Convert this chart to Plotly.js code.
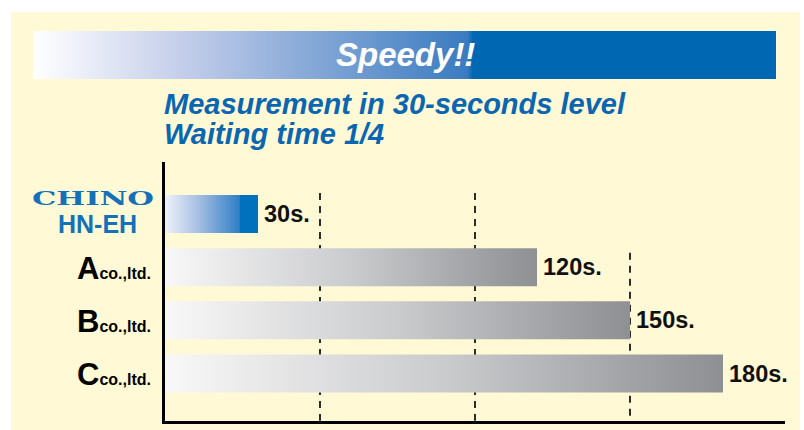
<!DOCTYPE html>
<html>
<head>
<meta charset="utf-8">
<script src="https://cdn.plot.ly/plotly-3.0.1.min.js"></script>
<style>
  html, body { margin: 0; padding: 0; background: #ffffff; width: 804px; height: 430px; overflow: hidden; }
  #chart { position: absolute; left: 11px; top: 12px; width: 789px; height: 418px; }
</style>
</head>
<body>
<div id="chart"></div>
<script>
// ---- data ----
const categories = ["CHINO HN-EH", "A co.,ltd.", "B co.,ltd.", "C co.,ltd."];
const companyLetters = ["", "A", "B", "C"];
const seconds = [30, 120, 150, 180];
const valueLabels = ["30s.", "120s.", "150s.", "180s."];
const gridValues = [50, 100, 150];
const titleText = "Speedy!!";
const subtitleLines = ["Measurement in 30-seconds level", "Waiting time 1/4"];

// ---- layout helpers (page pixel -> paper coords) ----
const OFFX = 11, OFFY = 12;
const L = 154, T = 150, R = 15, B = 9;
const W = 789 - L - R, H = 418 - T - B;
const px = x => (x - OFFX - L) / W;
const py = y => 1 - (y - OFFY - T) / H;

const FONT = "Liberation Sans, Arial, Helvetica, sans-serif";
const BLUE = "#0B66B2";

const trace = {
  type: "bar",
  orientation: "h",
  y: categories,
  x: seconds,
  width: 0.715,
  marker: { color: ["#0071BC", "#B5B6B8", "#B5B6B8", "#B5B6B8"], line: { width: 0 } },
  hoverinfo: "none",
  showlegend: false
};

const annotations = [];
annotations.push({
  xref: "paper", yref: "paper", x: px(405), y: py(54.5),
  xanchor: "center", yanchor: "middle", showarrow: false,
  text: titleText,
  font: { family: FONT, size: 33, color: "#ffffff", weight: "bold", style: "italic" }
});
const subY = [104, 134];
subtitleLines.forEach((s, i) => {
  annotations.push({
    xref: "paper", yref: "paper", x: px(162), y: py(subY[i]),
    xanchor: "left", yanchor: "middle", showarrow: false,
    text: s,
    font: { family: FONT, size: 29, color: BLUE, weight: "bold", style: "italic" }
  });
});
// CHINO logo + model
annotations.push({
  xref: "paper", yref: "paper", x: px(92.5), y: py(198.5),
  xanchor: "center", yanchor: "middle", showarrow: false,
  text: "CHINO",
  font: { family: "DejaVu Serif, serif", size: 18.5, color: "#1470B8", weight: "bold" }
});
annotations.push({
  xref: "paper", yref: "paper", x: px(97.5), y: py(223.5),
  xanchor: "center", yanchor: "middle", showarrow: false,
  text: "HN-EH",
  font: { family: FONT, size: 25, color: "#1470B8", weight: "bold" }
});
// Company labels
companyLetters.forEach((c, i) => {
  if (!c) return;
  annotations.push({
    xref: "paper", yref: "y", x: px(153), y: categories[i],
    xanchor: "right", yanchor: "middle", showarrow: false, yshift: -1,
    text: '<span style="font-size:31px">' + c + '</span><span style="font-size:16px">co.,ltd.</span>',
    font: { family: FONT, size: 16, color: "#000000", weight: "bold" }
  });
});
// value labels
seconds.forEach((v, i) => {
  annotations.push({
    xref: "x", yref: "y", x: v, y: categories[i],
    xanchor: "left", yanchor: "middle", showarrow: false, xshift: 4,
    text: valueLabels[i],
    font: { family: FONT, size: 23.5, color: "#111111", weight: "bold" }
  });
});

const gridTop = [-0.395, -0.395, 0.73];
const shapes = gridValues.map((g, i) => ({
  type: "line", xref: "x", yref: "y", layer: "below",
  x0: g, x1: g, y0: gridTop[i], y1: 3.89,
  line: { color: "#222222", width: 1.9, dash: "7px,6px" }
}));

const bannerSvg = '<svg xmlns="http://www.w3.org/2000/svg" width="743" height="48" viewBox="0 0 743 48" preserveAspectRatio="none">' +
  '<defs><linearGradient id="g" x1="0" y1="0" x2="1" y2="0">' +
  '<stop offset="0" stop-color="#FFFFFF"/>' +
  '<stop offset="0.2" stop-color="#C4CEEA"/>' +
  '<stop offset="0.585" stop-color="#3A7BC0"/>' +
  '<stop offset="0.592" stop-color="#0068B3"/>' +
  '<stop offset="1" stop-color="#0068B3"/>' +
  '</linearGradient></defs><rect x="0" y="0" width="743" height="48" fill="url(#g)"/></svg>';

const layout = {
  width: 789, height: 418,
  margin: { l: L, r: R, t: T, b: B, pad: 0 },
  paper_bgcolor: "#FFFAD5",
  plot_bgcolor: "rgba(0,0,0,0)",
  font: { family: FONT },
  xaxis: {
    range: [0, 200], showgrid: false, zeroline: false, showticklabels: false,
    ticks: "", showline: true, linecolor: "#000000", linewidth: 3, fixedrange: true
  },
  yaxis: {
    type: "category", categoryorder: "array", categoryarray: categories,
    range: [3.893, -0.978], showgrid: false, zeroline: false, showticklabels: false,
    ticks: "", showline: true, linecolor: "#000000", linewidth: 3, fixedrange: true
  },
  annotations: annotations,
  shapes: shapes,
  images: [{
    source: "data:image/svg+xml;charset=utf-8," + encodeURIComponent(bannerSvg),
    xref: "paper", yref: "paper",
    x: px(33), y: py(31), sizex: 743 / W, sizey: 48 / H,
    xanchor: "left", yanchor: "top", sizing: "stretch", layer: "below"
  }]
};

const gd = document.getElementById("chart");
Plotly.newPlot(gd, [trace], layout, { staticPlot: true, displayModeBar: false }).then(() => {
  const svg = gd.querySelector("svg.main-svg");
  const defs = svg.querySelector("defs");
  const NS = "http://www.w3.org/2000/svg";
  function grad(id, stops) {
    const lg = document.createElementNS(NS, "linearGradient");
    lg.setAttribute("id", id);
    lg.setAttribute("x1", "0"); lg.setAttribute("y1", "0");
    lg.setAttribute("x2", "1"); lg.setAttribute("y2", "0");
    stops.forEach(s => {
      const st = document.createElementNS(NS, "stop");
      st.setAttribute("offset", s[0]);
      st.setAttribute("stop-color", s[1]);
      lg.appendChild(st);
    });
    defs.appendChild(lg);
  }
  grad("barBlue", [[0, "#EEF2FA"], [0.35, "#A9C0E3"], [0.8, "#2F7FC6"], [0.81, "#0071BC"], [1, "#0071BC"]]);
  grad("barGray", [[0, "#F8F8F8"], [0.5, "#CACBCD"], [0.9, "#9A9B9E"], [1, "#8F9094"]]);
  const paths = gd.querySelectorAll(".barlayer .point path");
  paths.forEach((p, i) => {
    p.style.fill = "url(#" + (i === 0 ? "barBlue" : "barGray") + ")";
  });
  // stretch the CHINO logotype
  gd.querySelectorAll(".annotation").forEach(a => {
    const t = a.querySelector("text");
    if (t && t.textContent === "CHINO") {
      t.setAttribute("textLength", "122");
      t.setAttribute("lengthAdjust", "spacingAndGlyphs");
    }
  });
});
</script>
</body>
</html>
